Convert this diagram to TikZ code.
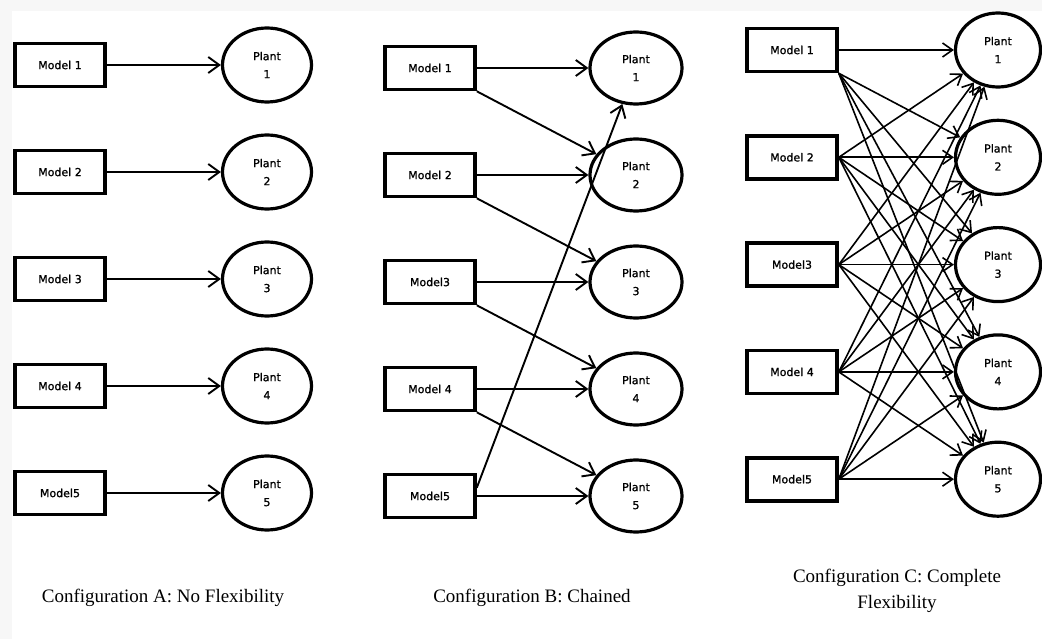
\documentclass[tikz,border=0pt]{standalone}
\usepackage{fontspec}
\setmainfont{Liberation Serif}
\newfontfamily\boxfont[FakeBold=1.2]{DejaVu Sans}
\usetikzlibrary{arrows.meta,shapes.geometric}
\begin{document}
\begin{tikzpicture}[x=1pt,y=-1pt,
  modelbox/.style={draw, line width=3.6pt, minimum width=90pt, minimum height=43pt, inner sep=0pt,
    font=\boxfont\fontsize{11}{13}\selectfont},
  plantnode/.style={draw, ellipse, line width=3.2pt, minimum width=89pt, minimum height=74pt, inner sep=0pt,
    align=center, font=\boxfont\fontsize{11}{18}\selectfont},
  flow/.style={line width=1.9pt, -{Straight Barb[length=11pt,width=16pt]}},
  flowc/.style={line width=1.6pt, -{Straight Barb[length=10pt,width=14pt]}},
  caption/.style={font=\fontsize{19}{26}\selectfont, inner sep=0pt, align=center}]
\fill[gray!6] (0,0) rectangle (1042,639);
\fill[white] (12,11) rectangle (1042,639);
\useasboundingbox (0,0) rectangle (1042,639);

% Configuration A
\foreach \i/\lab in {1/Model 1,2/Model 2,3/Model 3,4/Model 4,5/Model5}{
  \pgfmathsetmacro{\yy}{65+107*(\i-1)}
  \node[modelbox] (a\i) at (60,\yy) {\lab};
  \node[plantnode] (pa\i) at (267,\yy) {Plant\\\i};
  \draw[flow] (a\i) -- (pa\i);
}

% Configuration B
\foreach \i/\lab in {1/Model 1,2/Model 2,3/Model3,4/Model 4,5/Model5}{
  \pgfmathsetmacro{\yy}{68+107*(\i-1)}
  \node[modelbox] (b\i) at (430,\yy) {\lab};
  \node[plantnode, minimum width=92pt, minimum height=72pt] (pb\i) at (636,\yy) {Plant\\\i};
  \draw[flow] (b\i) -- (pb\i);
}
\foreach \i/\j in {1/2,2/3,3/4,4/5}{
  \draw[flow] (b\i.south east) -- (pb\j);
}
\draw[flow] (b5.10) -- (pb1);

% Configuration C
\foreach \i/\lab in {1/Model 1,2/Model 2,3/Model3,4/Model 4,5/Model5}{
  \pgfmathsetmacro{\yy}{50+107.3*(\i-1)}
  \node[modelbox] (c\i) at (792,\yy) {\lab};
  \node[plantnode, minimum width=85pt, minimum height=74pt] (pc\i) at (998,\yy) {Plant\\\i};
}
\draw[flowc] (c1) -- (pc1);
\foreach \j in {2,...,5}{
  \draw[flowc] (c1.south east) -- (pc\j);
}
\foreach \i in {2,...,5}{
  \foreach \j in {1,...,5}{
    \draw[flowc] (c\i.east) -- (pc\j);
  }
}

% Captions
\node[caption, anchor=base] (capA) at (163,602) {Configuration A: No Flexibility};
\node[caption, anchor=base] (capB) at (532,602) {Configuration B: Chained};
\node[caption, anchor=north] (capC) at (897,569) {Configuration C: Complete\\Flexibility};
\end{tikzpicture}
\end{document}
